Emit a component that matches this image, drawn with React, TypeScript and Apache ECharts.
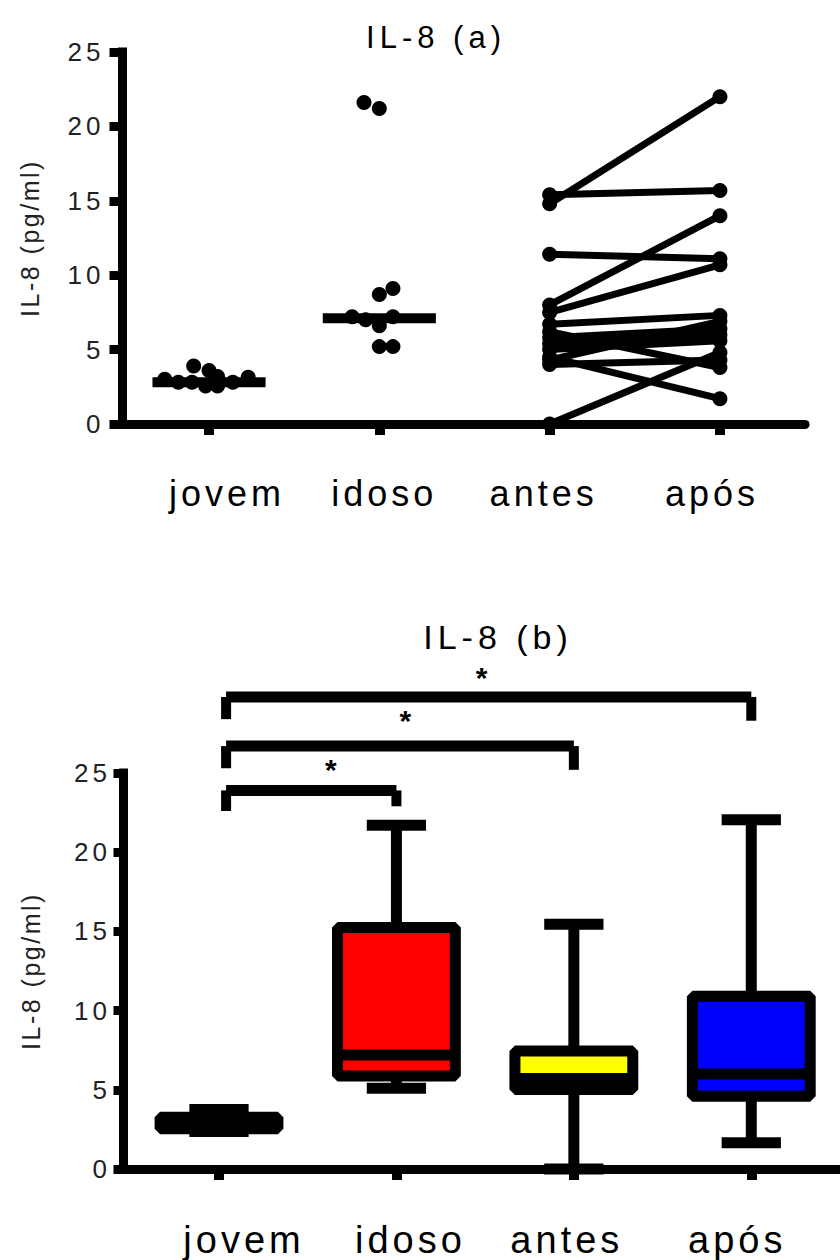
import React, { useEffect, useRef } from "react";
import * as echarts from "echarts";

// ---------- shared ----------
const categories = ["jovem", "idoso", "antes", "após"];
const categoryIndex = [0, 1, 2, 3];
const yMin = 0;
const yMax = 25;
const yStep = 5;
const titleA = "IL-8 (a)";
const titleB = "IL-8 (b)";
const yName = "IL-8 (pg/ml)";

// ---------- panel (a): individual values ----------
const jovemValues = [3.9, 3.6, 3.2, 3.0, 2.8, 2.8, 2.55, 2.55, 2.8, 3.15];
const jovemJitter = [-0.09, 0.0, 0.05, -0.26, -0.18, -0.1, -0.02, 0.05, 0.14, 0.23];
const jovemMedian = 2.8;
const idosoValues = [21.6, 21.2, 9.1, 8.7, 7.2, 7.0, 6.6, 7.2, 5.2, 5.2];
const idosoJitter = [-0.09, 0.0, 0.08, 0.0, -0.16, -0.08, 0.0, 0.08, 0.0, 0.08];
const idosoMedian = 7.1;
// paired values (same subject before / after)
const antesValues = [14.8, 15.4, 11.4, 8.0, 7.5, 6.7, 6.2, 5.8, 5.4, 5.0, 4.5, 4.0, 0.0, 4.3];
const aposValues = [22.0, 15.7, 11.1, 14.0, 10.7, 7.3, 3.8, 6.4, 6.0, 5.6, 1.7, 4.3, 4.8, 6.9];

// ---------- panel (b): box plots ----------
const boxMin = [2.37, 5.1, 0.0, 1.65];
const boxQ1 = [2.54, 5.87, 5.02, 4.6];
const boxMedian = [2.8, 7.19, 5.71, 5.99];
const boxQ3 = [3.27, 15.25, 7.45, 10.91];
const boxMax = [3.75, 21.7, 15.45, 22.05];
const boxColors = ["#000000", "#ff0000", "#ffff00", "#0000ff"];

// significance brackets (category from / to, bar level, leg ends, star position)
const sigFrom = [0, 0, 0];
const sigTo = [3, 2, 1];
const sigLevel = [29.8, 26.7, 23.9];
const sigLeftEnd = [28.4, 25.3, 22.6];
const sigRightEnd = [28.3, 25.2, 22.9];
const sigStarX = [1.48, 1.05, 0.63];
const sigStarY = [31.0, 28.3, 25.2];
const sigText = ["*", "*", "*"];

const FONT = "Liberation Sans, Arial, Helvetica, sans-serif";

function applySpacing(root: HTMLElement) {
  root.querySelectorAll("text").forEach((t) => {
    const s = (t.textContent || "").trim();
    let ls = 0;
    if (categories.includes(s)) ls = 4;
    else if (s === titleA || s === titleB) ls = 5;
    else if (/^\d+$/.test(s)) ls = 4;
    else if (s === yName) ls = 2.5;
    if (ls) t.setAttribute("letter-spacing", ls + "px");
  });
}

function yAxisCfg(gridIndex: number, tickLen: number, labelMargin: number) {
  return {
    type: "value",
    gridIndex,
    min: yMin,
    max: yMax,
    interval: yStep,
    name: yName,
    nameLocation: "middle",
    nameGap: 80,
    nameTextStyle: { fontFamily: FONT, fontSize: 25, color: "#222" },
    axisLine: { show: true, onZero: false, lineStyle: { color: "#000", width: 9, cap: "square" } },
    axisTick: { show: true, inside: false, length: tickLen, lineStyle: { color: "#000", width: 9 } },
    axisLabel: { fontFamily: FONT, fontSize: 26, color: "#222", margin: labelMargin },
    splitLine: { show: false },
  };
}

// horizontal nudges (px) of the category names, as placed in the original figure
function richFor(size: number, shifts: number[]) {
  const rich: Record<string, any> = {};
  shifts.forEach((s, i) => {
    rich["c" + i] = {
      fontFamily: FONT,
      fontSize: size,
      color: "#000",
      padding: s >= 0 ? [0, 0, 0, 2 * s] : [0, -2 * s, 0, 0],
    };
  });
  return rich;
}

function xAxisCfg(gridIndex: number, min: number, labelSize: number, labelMargin: number, shifts: number[]) {
  return {
    type: "value",
    gridIndex,
    min,
    max: 3.5,
    axisLine: { show: true, onZero: false, lineStyle: { color: "#000", width: 9 } },
    axisTick: {
      show: true,
      length: 11,
      customValues: categoryIndex,
      lineStyle: { color: "#000", width: 10 },
    },
    axisLabel: {
      customValues: categoryIndex,
      formatter: (v: number) => {
        const k = Math.round(v);
        return categories[k] ? "{c" + k + "|" + categories[k] + "}" : "";
      },
      rich: richFor(labelSize, shifts),
      fontFamily: FONT,
      fontSize: labelSize,
      color: "#000",
      margin: labelMargin,
    },
    splitLine: { show: false },
  };
}

export default function App() {
  const ref = useRef<HTMLDivElement>(null);

  useEffect(() => {
    const el = ref.current!;
    const chart = echarts.init(el, null, { renderer: "svg" });

    const pairedSeries = antesValues.map((a, i) => ({
      type: "line",
      xAxisIndex: 0,
      yAxisIndex: 0,
      data: [
        [2, a],
        [3, aposValues[i]],
      ],
      symbol: "circle",
      symbolSize: 15,
      showSymbol: true,
      lineStyle: { color: "#000", width: 7, opacity: 1 },
      itemStyle: { color: "#000", opacity: 1 },
      silent: true,
      z: 3,
    }));

    const option = {
      animation: false,
      backgroundColor: "#fff",
      textStyle: { fontFamily: FONT },
      grid: [
        { left: 122.5, top: 52, width: 682.6, height: 372 },
        { left: 123, top: 773, width: 724.6, height: 396 },
      ],
      xAxis: [
        xAxisCfg(0, -0.508, 36, 51, [18, 5, -6, -8]),
        xAxisCfg(1, -0.541, 38, 52, [25, 14, -7, -14]),
      ],
      yAxis: [yAxisCfg(0, 13, 18), yAxisCfg(1, 9.5, 12)],
      graphic: [
        {
          type: "text",
          x: 436,
          y: 37,
          style: {
            text: titleA,
            fontFamily: FONT,
            fontSize: 31,
            fill: "#000",
            textAlign: "center",
            textVerticalAlign: "middle",
          },
        },
        {
          type: "text",
          x: 498,
          y: 637,
          style: {
            text: titleB,
            fontFamily: FONT,
            fontSize: 34,
            fill: "#000",
            textAlign: "center",
            textVerticalAlign: "middle",
          },
        },
      ],
      series: [
        // median bars, panel (a)
        {
          type: "custom",
          xAxisIndex: 0,
          yAxisIndex: 0,
          silent: true,
          z: 2,
          data: [
            [0, jovemMedian],
            [1, idosoMedian],
          ],
          renderItem: (params: any, api: any) => {
            const c = api.coord([api.value(0), api.value(1)]);
            const half = api.size([1, 0])[0] * 0.332;
            return {
              type: "line",
              shape: { x1: c[0] - half, y1: c[1], x2: c[0] + half, y2: c[1] },
              style: { stroke: "#000", lineWidth: 10, lineCap: "butt" },
            };
          },
        },
        {
          type: "scatter",
          xAxisIndex: 0,
          yAxisIndex: 0,
          symbol: "circle",
          symbolSize: 15,
          itemStyle: { color: "#000", opacity: 1 },
          silent: true,
          z: 4,
          data: jovemValues.map((v, i) => [0 + jovemJitter[i], v]),
        },
        {
          type: "scatter",
          xAxisIndex: 0,
          yAxisIndex: 0,
          symbol: "circle",
          symbolSize: 15,
          itemStyle: { color: "#000", opacity: 1 },
          silent: true,
          z: 4,
          data: idosoValues.map((v, i) => [1 + idosoJitter[i], v]),
        },
        ...pairedSeries,
        // box plots, panel (b)
        {
          type: "custom",
          xAxisIndex: 1,
          yAxisIndex: 1,
          silent: true,
          z: 3,
          data: categoryIndex.map((c, i) => [c, boxMin[i], boxQ1[i], boxMedian[i], boxQ3[i], boxMax[i]]),
          renderItem: (params: any, api: any) => {
            const cx = api.value(0);
            const pMin = api.coord([cx, api.value(1)]);
            const pQ1 = api.coord([cx, api.value(2)]);
            const pMed = api.coord([cx, api.value(3)]);
            const pQ3 = api.coord([cx, api.value(4)]);
            const pMax = api.coord([cx, api.value(5)]);
            const unit = api.size([1, 0])[0];
            const boxHalf = unit * 0.332;
            const capHalf = unit * 0.167;
            const x = pMed[0];
            const lw = 11;
            const ln = (x1: number, y1: number, x2: number, y2: number) => ({
              type: "line",
              shape: { x1, y1, x2, y2 },
              style: { stroke: "#000", lineWidth: lw, lineCap: "butt" },
            });
            return {
              type: "group",
              children: [
                ln(x, pMax[1], x, pQ3[1]),
                ln(x, pQ1[1], x, pMin[1]),
                ln(x - capHalf, pMax[1], x + capHalf, pMax[1]),
                ln(x - capHalf, pMin[1], x + capHalf, pMin[1]),
                {
                  type: "rect",
                  shape: { x: x - boxHalf, y: pQ3[1], width: boxHalf * 2, height: pQ1[1] - pQ3[1] },
                  style: {
                    fill: boxColors[params.dataIndex],
                    stroke: "#000",
                    lineWidth: lw,
                    lineJoin: "bevel",
                  },
                },
                ln(x - boxHalf, pMed[1], x + boxHalf, pMed[1]),
              ],
            };
          },
        },
        // significance brackets
        {
          type: "custom",
          xAxisIndex: 1,
          yAxisIndex: 1,
          silent: true,
          clip: false,
          z: 5,
          data: sigFrom.map((f, i) => [f, sigTo[i], sigLevel[i], sigLeftEnd[i], sigRightEnd[i], sigStarX[i], sigStarY[i]]),
          renderItem: (params: any, api: any) => {
            const i = params.dataIndex;
            const pL = api.coord([api.value(0) + 0.04, api.value(2)]);
            const pR = api.coord([api.value(1), api.value(2)]);
            const pLe = api.coord([api.value(0) + 0.04, api.value(3)]);
            const pRe = api.coord([api.value(1), api.value(4)]);
            const pS = api.coord([api.value(5), api.value(6)]);
            return {
              type: "group",
              children: [
                {
                  type: "line",
                  shape: { x1: pL[0], y1: pL[1], x2: pR[0], y2: pR[1] },
                  style: { stroke: "#000", lineWidth: 11, lineCap: "butt" },
                },
                {
                  type: "line",
                  shape: { x1: pL[0], y1: pL[1], x2: pLe[0], y2: pLe[1] },
                  style: { stroke: "#000", lineWidth: 10, lineCap: "butt" },
                },
                {
                  type: "line",
                  shape: { x1: pR[0], y1: pR[1], x2: pRe[0], y2: pRe[1] },
                  style: { stroke: "#000", lineWidth: 10, lineCap: "butt" },
                },
                {
                  type: "text",
                  x: pS[0],
                  y: pS[1],
                  style: {
                    text: sigText[i],
                    fontFamily: FONT,
                    fontSize: 30,
                    fontWeight: "bold",
                    fill: "#000",
                    textAlign: "center",
                    textVerticalAlign: "middle",
                  },
                },
              ],
            };
          },
        },
      ],
    };

    chart.setOption(option as any);
    applySpacing(el);
    return () => chart.dispose();
  }, []);

  return (
    <div
      ref={ref}
      style={{ position: "absolute", left: 0, top: 0, width: 840, height: 1260, background: "#fff" }}
    />
  );
}
